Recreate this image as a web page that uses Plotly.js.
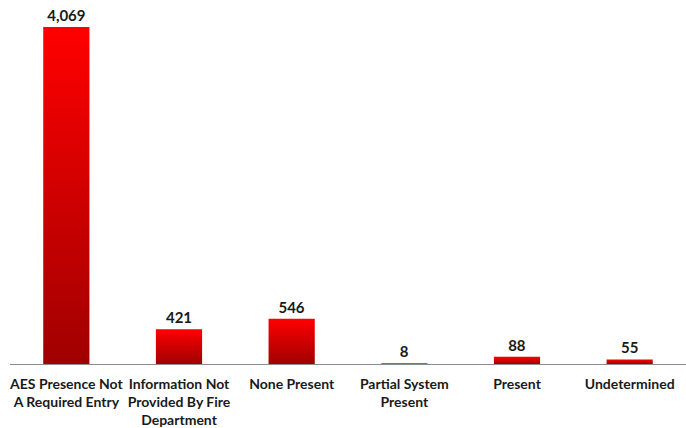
<!DOCTYPE html>
<html>
<head>
<meta charset="utf-8">
<script src="https://cdn.plot.ly/plotly-3.0.1.min.js"></script>
<style>
html,body{margin:0;padding:0;background:#fff;}
#chart{width:686px;height:428px;}
</style>
</head>
<body>
<div id="chart"></div>
<script>
const categories = [
  "AES Presence Not<br>A Required Entry",
  "Information Not<br>Provided By Fire<br>Department",
  "None Present",
  "Partial System<br>Present",
  "Present",
  "Undetermined"
];
const values = [4069, 421, 546, 8, 88, 55];
const valueLabels = values.map(v => v.toLocaleString("en-US"));

const trace = {
  type: "bar",
  x: categories,
  y: values,
  text: valueLabels,
  textposition: "outside",
  cliponaxis: false,
  textfont: {family: "Lato, 'Open Sans', sans-serif", size: 15, color: "#1a1a1a", weight: "bold"},
  marker: {color: "#e00000", line: {width: 0}},
  hoverinfo: "skip"
};

const layout = {
  width: 686,
  height: 428,
  margin: {l: 10, r: 0, t: 10, b: 64},
  paper_bgcolor: "#ffffff",
  plot_bgcolor: "#ffffff",
  bargap: 0.59,
  showlegend: false,
  font: {family: "Lato, 'Open Sans', sans-serif", color: "#1a1a1a"},
  xaxis: {
    showline: true,
    linecolor: "#8c8c8c",
    linewidth: 1,
    ticks: "",
    showgrid: false,
    zeroline: false,
    ticklabelstandoff: 7,
    tickfont: {family: "Lato, 'Open Sans', sans-serif", size: 14, color: "#1a1a1a", weight: "bold"},
    tickangle: 0,
    automargin: false
  },
  yaxis: {
    range: [0, 4275],
    visible: false,
    showgrid: false,
    zeroline: false
  }
};

Plotly.newPlot("chart", [trace], layout, {displayModeBar: false, staticPlot: true}).then(function(gd){
  const svg = gd.querySelector("svg.main-svg");
  const ns = "http://www.w3.org/2000/svg";
  let defs = svg.querySelector("defs");
  if (!defs) { defs = document.createElementNS(ns, "defs"); svg.insertBefore(defs, svg.firstChild); }
  const grad = document.createElementNS(ns, "linearGradient");
  grad.setAttribute("id", "barGrad");
  grad.setAttribute("x1", "0"); grad.setAttribute("y1", "0");
  grad.setAttribute("x2", "0"); grad.setAttribute("y2", "1");
  const s1 = document.createElementNS(ns, "stop");
  s1.setAttribute("offset", "0"); s1.setAttribute("stop-color", "#ff0000");
  const s2 = document.createElementNS(ns, "stop");
  s2.setAttribute("offset", "1"); s2.setAttribute("stop-color", "#a00000");
  grad.appendChild(s1); grad.appendChild(s2);
  defs.appendChild(grad);
  gd.querySelectorAll(".barlayer .point path").forEach(function(p){
    p.style.fill = "url(#barGrad)";
  });
});
</script>
</body>
</html>
